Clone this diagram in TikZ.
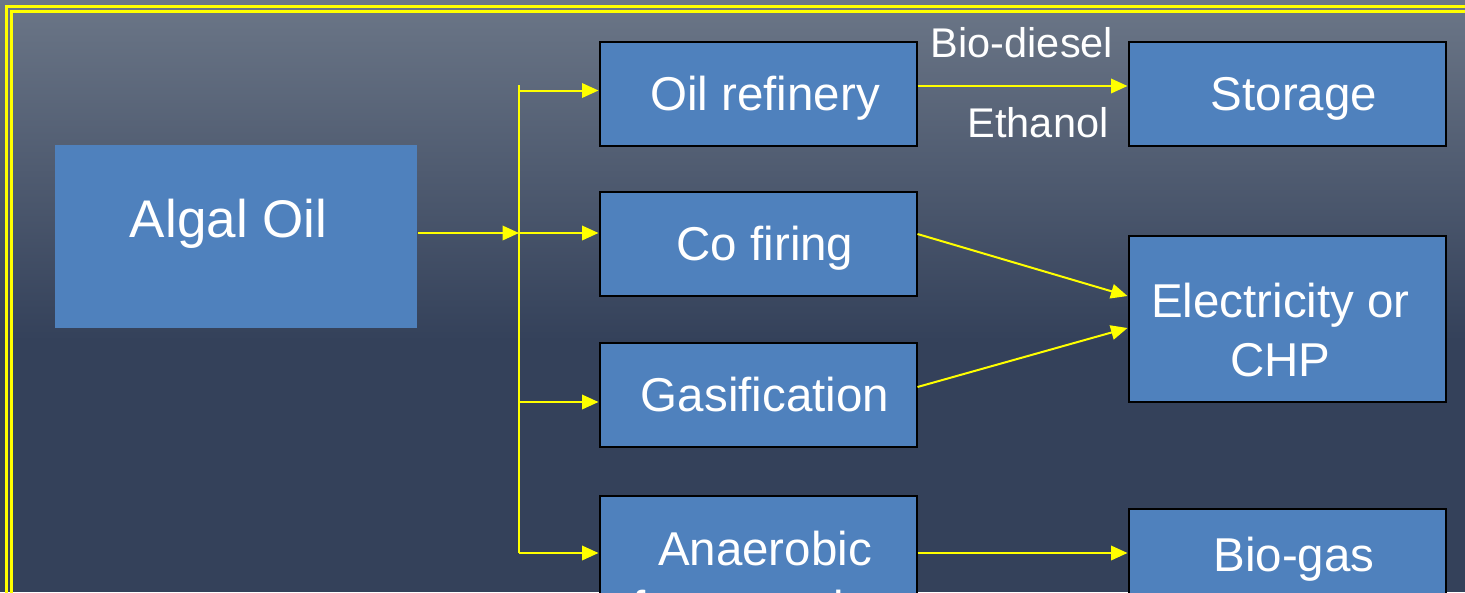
\documentclass[tikz,border=0pt]{standalone}
\usepackage{fontspec}
\setmainfont{Liberation Sans}
\usetikzlibrary{arrows.meta}
\definecolor{bgtop}{RGB}{107,118,135}
\definecolor{bgbot}{RGB}{52,65,90}
\definecolor{boxblue}{RGB}{79,129,189}
\definecolor{ylw}{RGB}{255,255,0}
\tikzset{
  box/.style={draw=black, line width=2pt, fill=boxblue, text=white, inner sep=0pt,
    minimum width=317pt, minimum height=104pt,
    font=\fontsize{47.5pt}{59pt}\selectfont, text height=34pt, text depth=0pt},
  conn/.style={draw=ylw, line width=2pt},
  arr/.style={conn, -{Triangle[length=16.5pt,width=14.5pt]}},
  lbl/.style={text=white, inner sep=0pt, font=\fontsize{41.5pt}{50pt}\selectfont},
  frameout/.style={draw=ylw, line width=3pt},
  framein/.style={draw=ylw, line width=2.5pt},
}
\begin{document}
\begin{tikzpicture}[x=1pt, y=-1pt]
\useasboundingbox (0,0) rectangle (1465,592);
\clip (0,0) rectangle (1465,592);
\shade[top color=bgtop, bottom color=bgbot] (0,0) rectangle (1465,341);
\fill[bgbot] (0,340) rectangle (1465,592);
\draw[frameout] (6.5,6.5) rectangle (1480,610);
\draw[framein] (11.5,11.5) rectangle (1475,605);

\node[box, draw=none, minimum width=362pt, minimum height=183pt,
  font=\fontsize{53pt}{64pt}\selectfont, text height=38pt, text depth=37pt]
  (algal) at (236,236.5) {Algal Oil\hspace*{14.7pt}};
\node[box] (refinery) at (758,93.5) {\hspace*{14pt}Oil refinery};
\node[box] (cofiring) at (758,243.5) {\hspace*{14pt}Co firing};
\node[box] (gasif) at (758,394.5) {\hspace*{14pt}Gasification};
\node[box, minimum height=160pt, align=center, text height=96pt, text depth=0pt]
  (anaer) at (758,576) {\hspace*{14pt}Anaerobic\\\hspace*{14pt}fermentation};
\node[box] (storage) at (1287,93.5) {\hspace*{14pt}Storage};
\node[box, minimum height=166pt, align=center, text height=114pt, text depth=0pt]
  (elec) at (1287,319) {Electricity or\hspace*{13pt}\\CHP\hspace*{13pt}};
\node[box, text depth=13pt] (biogas) at (1287,560.5) {\hspace*{14pt}Bio-gas};

\node[lbl, anchor=base] (biodiesel) at (1022,57) {Bio-diesel};
\node[lbl, anchor=base] (ethanol) at (1038,137) {Ethanol};

\coordinate (ttop) at (519,85);
\coordinate (t1) at (519,90.5);
\coordinate (t2) at (519,233);
\coordinate (t3) at (519,402);
\coordinate (t4) at (519,553);

\draw[arr] (algal.east |- t2) -- (t2);
\draw[conn] (ttop) -- (t4);
\draw[arr] (t1) -- (t1 -| refinery.west);
\draw[arr] (t2) -- (t2 -| cofiring.west);
\draw[arr] (t3) -- (t3 -| gasif.west);
\draw[arr] (t4) -- (t4 -| anaer.west);

\draw[arr] ([yshift=7.5pt]refinery.east) -- ([yshift=7.5pt]storage.west);
\draw[arr] ([yshift=9.5pt]cofiring.east) -- ([yshift=23pt]elec.west);
\draw[arr] ([yshift=7.5pt]gasif.east) -- ([yshift=-9pt]elec.west);
\draw[arr] (t4 -| anaer.east) -- (t4 -| biogas.west);
\end{tikzpicture}
\end{document}
